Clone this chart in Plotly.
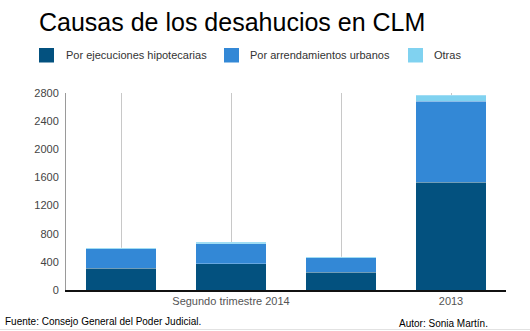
import plotly.graph_objects as go

# Periods on the category axis; only two of them carry a label
periodos = ["P1", "P2", "P3", "2013"]
etiquetas = ["", "Segundo trimestre 2014", "", "2013"]

# Evictions by cause
hipotecarias = [308, 370, 252, 1530]
arrendamientos = [275, 288, 203, 1150]
otras = [18, 20, 18, 85]

series = [
    ("Por ejecuciones hipotecarias", hipotecarias, "#03517f"),
    ("Por arrendamientos urbanos", arrendamientos, "#3388d6"),
    ("Otras", otras, "#80d2f0"),
]

W, H = 530, 331
L, R, T, B = 66, 24, 93, 41

fig = go.Figure()
xs = list(range(len(periodos)))
for nombre, valores, color in series:
    fig.add_trace(go.Bar(
        x=xs, y=valores, name=nombre,
        marker=dict(color=color, line=dict(color="rgba(255,255,255,0.25)", width=1)),
        width=0.645, showlegend=False,
    ))

fig.update_layout(
    width=W, height=H, barmode="stack",
    margin=dict(l=L, r=R, t=T, b=B),
    paper_bgcolor="white", plot_bgcolor="white",
    font=dict(family="Liberation Sans, Arial, sans-serif", color="#444"),
    xaxis=dict(
        range=[-0.5, 3.5], tickvals=xs, ticktext=etiquetas,
        showgrid=True, gridcolor="#c8c8c8", gridwidth=1,
        showline=True, linecolor="#111", linewidth=1.5,
        ticks="", tickfont=dict(size=11, color="#555"),
        zeroline=False, fixedrange=True,
    ),
    yaxis=dict(
        range=[0, 2800], dtick=400, tick0=0,
        showgrid=False, zeroline=False,
        showline=True, linecolor="#9a9a9a", linewidth=1,
        ticks="", tickfont=dict(size=11, color="#444"),
        ticklabelstandoff=4,
    ),
)


def px_x(p):
    return (p - L) / (W - L - R)


def px_y(p):
    return (H - B - p) / (H - T - B)


# Title
fig.add_annotation(
    text="Causas de los desahucios en CLM", xref="paper", yref="paper",
    x=px_x(37), y=px_y(22), xanchor="left", yanchor="middle", showarrow=False,
    font=dict(size=25, color="#000"),
)

# Legend: colour squares with labels
leyenda_x = [(39, 64), (224, 248), (408, 432)]
for (sx, tx), (nombre, _, color) in zip(leyenda_x, series):
    fig.add_shape(type="rect", xref="paper", yref="paper",
                  x0=px_x(sx), x1=px_x(sx + 15), y0=px_y(48), y1=px_y(62.5),
                  fillcolor=color, line=dict(width=0))
    fig.add_annotation(text=nombre, xref="paper", yref="paper",
                       x=px_x(tx), y=px_y(55.5), xanchor="left", yanchor="middle",
                       showarrow=False, font=dict(size=11, color="#333"))

# Footer
fig.add_annotation(text="Fuente: Consejo General del Poder Judicial.", xref="paper", yref="paper",
                   x=px_x(3), y=px_y(321.5), xanchor="left", yanchor="middle",
                   showarrow=False, font=dict(size=10, color="#000"))
fig.add_annotation(text="Autor: Sonia Martín.", xref="paper", yref="paper",
                   x=px_x(490), y=px_y(323), xanchor="right", yanchor="middle",
                   showarrow=False, font=dict(size=10, color="#000"))
fig.add_shape(type="line", xref="paper", yref="paper",
              x0=px_x(0), x1=px_x(W), y0=px_y(329.5), y1=px_y(329.5),
              line=dict(color="#e2e2e2", width=1))

fig.write_html("out.html")
